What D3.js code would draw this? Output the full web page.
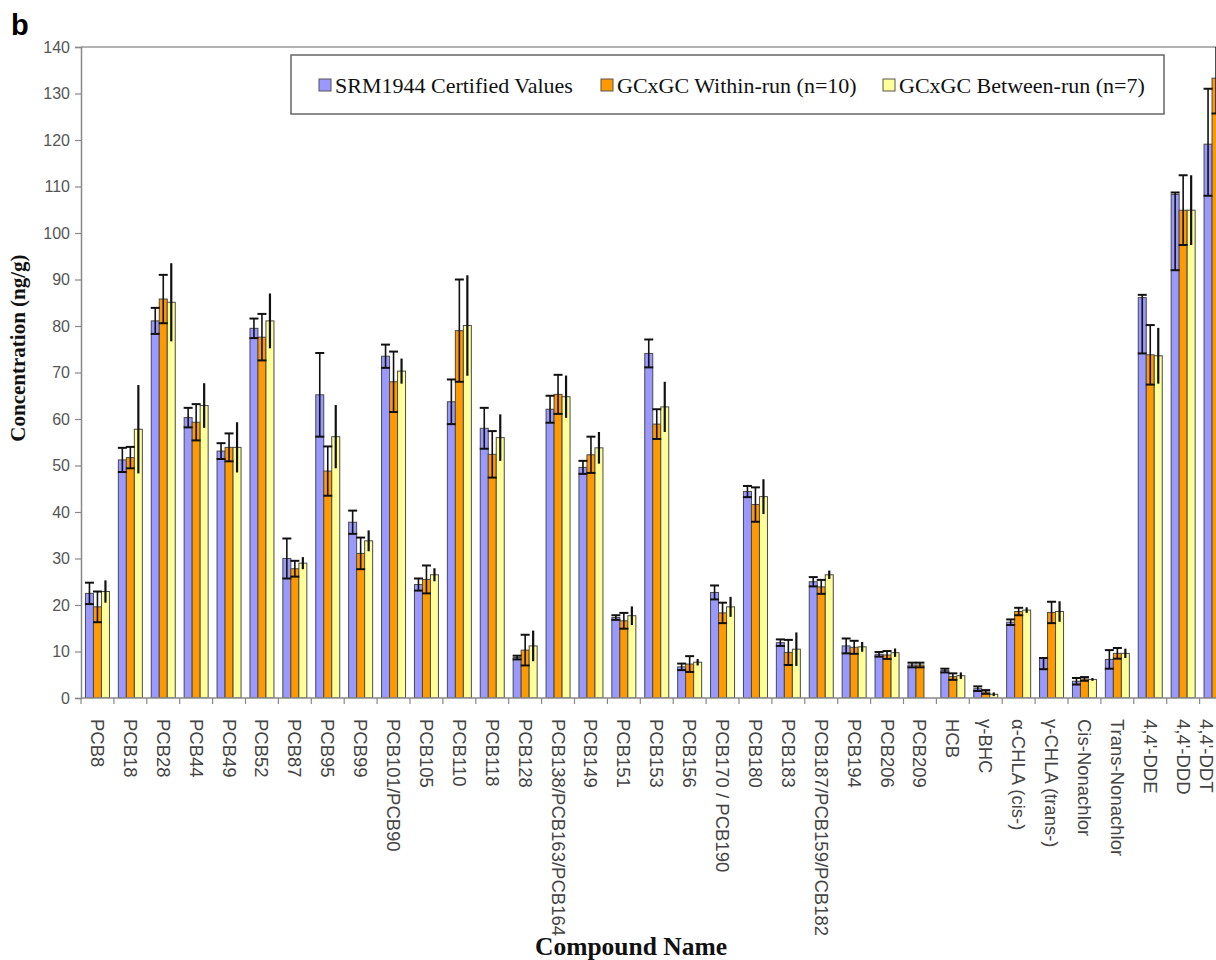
<!DOCTYPE html>
<html>
<head>
<meta charset="utf-8">
<script src="https://cdn.jsdelivr.net/npm/d3@7"></script>
<style>
  body { margin: 0; background: #fff; }
  svg { display: block; }
</style>
</head>
<body>
<svg id="chart" width="1216" height="960"></svg>
<script>
// Compounds measured in SRM 1944
const categories = [
  "PCB8", "PCB18", "PCB28", "PCB44", "PCB49", "PCB52", "PCB87", "PCB95", "PCB99",
  "PCB101/PCB90", "PCB105", "PCB110", "PCB118", "PCB128", "PCB138/PCB163/PCB164",
  "PCB149", "PCB151", "PCB153", "PCB156", "PCB170 / PCB190", "PCB180", "PCB183",
  "PCB187/PCB159/PCB182", "PCB194", "PCB206", "PCB209", "HCB", "\u03b3-BHC",
  "\u03b1-CHLA (cis-)", "\u03b3-CHLA (trans-)", "Cis-Nonachlor", "Trans-Nonachlor",
  "4,4'-DDE", "4,4'-DDD", "4,4'-DDT"
];

const seriesNames = [
  "SRM1944 Certified Values",
  "GCxGC Within-run (n=10)",
  "GCxGC Between-run (n=7)"
];

// Certified concentrations (ng/g) with lower / upper uncertainty
const certified = [
  22.5, 51.2, 81.1, 60.3, 53.1, 79.5, 30.0, 65.2, 37.8, 73.5, 24.4, 63.7, 58.0, 8.7, 62.1,
  49.6, 17.3, 74.1, 6.7, 22.7, 44.4, 11.9, 25.0, 11.2, 9.4, 7.1, 5.9, 2.0, 16.3, 8.5,
  3.6, 8.3, 86.1, 108.3, 119.1
];
const certifiedErrMinus = [
  2.3, 2.6, 2.8, 2.1, 1.7, 2.1, 4.3, 9.0, 2.5, 2.5, 1.3, 4.8, 4.4, 0.4, 2.9,
  1.4, 0.5, 3.0, 0.7, 1.5, 1.2, 0.7, 1.0, 1.6, 0.5, 0.5, 0.4, 0.5, 0.6, 2.3,
  0.7, 2.0, 12.0, 16.3, 11.1
];
const certifiedErrPlus = [
  2.3, 2.6, 2.8, 2.1, 1.7, 2.1, 4.3, 9.0, 2.5, 2.5, 1.3, 4.8, 4.4, 0.4, 2.9,
  1.4, 0.5, 3.0, 0.7, 1.5, 1.2, 0.7, 1.0, 1.6, 0.5, 0.5, 0.4, 0.5, 0.6, 0.1,
  0.7, 2.0, 0.6, 0.4, 11.9
];

// GCxGC within-run means and standard deviations (ng/g)
const withinRun = [
  19.6, 51.7, 85.8, 59.3, 53.9, 77.6, 27.8, 48.8, 31.1, 68.0, 25.5, 79.0, 52.4, 10.3, 65.3,
  52.3, 16.6, 58.9, 7.3, 18.3, 41.6, 9.8, 23.9, 10.9, 9.25, 7.1, 4.6, 1.3, 18.6, 18.4,
  4.1, 9.6, 73.8, 104.9, 133.3
];
const withinRunErr = [
  3.3, 2.3, 5.2, 3.9, 3.0, 5.0, 1.7, 5.3, 3.4, 6.5, 3.0, 11.0, 5.0, 3.3, 4.2,
  3.9, 1.7, 3.2, 1.7, 2.2, 3.7, 2.7, 1.5, 1.4, 0.85, 0.5, 0.7, 0.4, 0.8, 2.3,
  0.4, 1.15, 6.4, 7.5, 7.6
];

// GCxGC between-run means and standard deviations (ng/g); PCB209 not reported
const betweenRun = [
  22.9, 57.8, 85.1, 62.9, 53.9, 81.1, 29.0, 56.2, 33.8, 70.3, 26.5, 80.1, 56.0, 11.2, 64.8,
  53.8, 17.7, 62.6, 7.7, 19.6, 43.3, 10.5, 26.5, 11.0, 9.75, null, 4.8, 0.8, 18.9, 18.6,
  4.0, 9.6, 73.6, 104.9, 128.0
];
const betweenRunErr = [
  2.4, 9.5, 8.4, 4.8, 5.4, 5.9, 1.3, 6.8, 2.25, 2.7, 1.4, 10.8, 5.0, 3.3, 4.55,
  3.4, 2.0, 5.4, 0.7, 2.15, 3.75, 3.6, 0.9, 1.05, 0.9, null, 0.7, 0.4, 0.6, 2.2,
  0.3, 1.0, 6.0, 7.5, 8.0
];

const yTicks = d3.range(0, 141, 10);
const colors = ["#9999ff", "#ff9900", "#ffff99"];

// Geometry
const W = 1216;
const plot = { left: 81, top: 47, bottom: 698, right: 1232.5 };

const svg = d3.select("#chart");

const x = d3.scaleBand().domain(categories).range([plot.left, plot.right]).padding(0);
const inner = d3.scaleBand().domain([0, 1, 2])
  .range([4.45, x.bandwidth() - 4.45]).padding(0);
const y = d3.scaleLinear().domain([0, 140]).range([plot.bottom, plot.top]);

svg.append("clipPath").attr("id", "plotclip")
  .append("rect")
  .attr("x", plot.left).attr("y", plot.top)
  .attr("width", plot.right - plot.left).attr("height", plot.bottom - plot.top);

// Top frame line of the plot area
svg.append("line")
  .attr("x1", plot.left).attr("x2", plot.right)
  .attr("y1", plot.top).attr("y2", plot.top)
  .attr("stroke", "#999").attr("stroke-width", 1.5);

// Build rows for every series
const series = [
  { vals: certified, lo: certifiedErrMinus, hi: certifiedErrPlus, caps: true },
  { vals: withinRun, lo: withinRunErr, hi: withinRunErr, caps: true },
  { vals: betweenRun, lo: betweenRunErr, hi: betweenRunErr, caps: false }
];

const rows = [];
series.forEach((s, si) => {
  categories.forEach((c, ci) => {
    if (s.vals[ci] == null) return;
    rows.push({ c, si, v: s.vals[ci], lo: s.lo[ci], hi: s.hi[ci], caps: s.caps });
  });
});

const gPlot = svg.append("g").attr("clip-path", "url(#plotclip)");

gPlot.selectAll("rect.bar").data(rows).join("rect")
  .attr("class", "bar")
  .attr("x", d => x(d.c) + inner(d.si))
  .attr("width", inner.bandwidth())
  .attr("y", d => y(d.v))
  .attr("height", d => y(0) - y(d.v))
  .attr("fill", d => colors[d.si])
  .attr("stroke", "#4a4a4a")
  .attr("stroke-width", 1);

// Error bars
const eb = gPlot.selectAll("g.err").data(rows).join("g").attr("class", "err");
const cx = d => x(d.c) + inner(d.si) + inner.bandwidth() / 2;
eb.append("line")
  .attr("x1", cx).attr("x2", cx)
  .attr("y1", d => y(d.v + d.hi)).attr("y2", d => y(d.v - d.lo))
  .attr("stroke", "#111")
  .attr("stroke-width", d => d.caps ? 1.6 : 2.2);
const capW = 4.5;
eb.filter(d => d.caps).append("line")
  .attr("x1", d => cx(d) - capW).attr("x2", d => cx(d) + capW)
  .attr("y1", d => y(d.v + d.hi)).attr("y2", d => y(d.v + d.hi))
  .attr("stroke", "#111").attr("stroke-width", 2);
eb.filter(d => d.caps).append("line")
  .attr("x1", d => cx(d) - capW).attr("x2", d => cx(d) + capW)
  .attr("y1", d => y(d.v - d.lo)).attr("y2", d => y(d.v - d.lo))
  .attr("stroke", "#111").attr("stroke-width", 2);

// Y axis
const yAxis = svg.append("g")
  .attr("transform", `translate(${plot.left},0)`)
  .call(d3.axisLeft(y).tickValues(yTicks).tickSize(6).tickPadding(5));
yAxis.select(".domain").attr("stroke", "#888").attr("stroke-width", 1.5);
yAxis.selectAll(".tick line").attr("stroke", "#888").attr("stroke-width", 1.2);
yAxis.selectAll(".tick text")
  .attr("font-family", "'Liberation Sans', Arial, sans-serif")
  .attr("font-size", 16).attr("fill", "#555");

// X axis: ticks at category boundaries
const xAxisG = svg.append("g").attr("transform", `translate(0,${plot.bottom})`);
xAxisG.append("line")
  .attr("x1", plot.left).attr("x2", plot.right)
  .attr("stroke", "#888").attr("stroke-width", 1.5);
xAxisG.selectAll("line.tk").data(categories).join("line")
  .attr("class", "tk")
  .attr("x1", d => x(d)).attr("x2", d => x(d))
  .attr("y1", 0).attr("y2", 6)
  .attr("stroke", "#888").attr("stroke-width", 1.2);
// category labels, kept inside the page at the right edge
xAxisG.selectAll("text").data(categories).join("text")
  .attr("transform", d => `translate(${Math.min(x(d) + x.bandwidth() / 2, W - 10)},21) rotate(90)`)
  .attr("text-anchor", "start")
  .attr("dominant-baseline", "central")
  .attr("font-family", "'Liberation Sans', Arial, sans-serif")
  .attr("font-size", 18.5)
  .attr("fill", "#444")
  .text(d => d);

// Axis titles
svg.append("text")
  .attr("transform", "translate(25,348) rotate(-90)")
  .attr("text-anchor", "middle")
  .attr("font-family", "'Liberation Serif', 'Times New Roman', serif")
  .attr("font-weight", "bold")
  .attr("font-size", 21)
  .attr("fill", "#111")
  .text("Concentration  (ng/g)");

svg.append("text")
  .attr("x", 631).attr("y", 955)
  .attr("text-anchor", "middle")
  .attr("font-family", "'Liberation Serif', 'Times New Roman', serif")
  .attr("font-weight", "bold")
  .attr("font-size", 25.5)
  .attr("fill", "#111")
  .text("Compound Name");

// Panel letter
svg.append("text")
  .attr("x", 11).attr("y", 35)
  .attr("font-family", "'Liberation Sans', Arial, sans-serif")
  .attr("font-weight", "bold")
  .attr("font-size", 29)
  .attr("fill", "#000")
  .text("b");

// Legend
const legend = svg.append("g");
legend.append("rect")
  .attr("x", 291).attr("y", 55).attr("width", 873).attr("height", 59)
  .attr("fill", "#fff").attr("stroke", "#666").attr("stroke-width", 1.5);
const legendX = [319, 601, 883];
const li = legend.selectAll("g.item").data(seriesNames).join("g")
  .attr("class", "item")
  .attr("transform", (d, i) => `translate(${legendX[i]},85)`);
li.append("rect")
  .attr("x", 0).attr("y", -6).attr("width", 12).attr("height", 12)
  .attr("fill", (d, i) => colors[i]).attr("stroke", "#555").attr("stroke-width", 1);
li.append("text")
  .attr("x", 16).attr("y", 7.5)
  .attr("font-family", "'Liberation Serif', 'Times New Roman', serif")
  .attr("font-size", 22)
  .attr("fill", "#111")
  .text(d => d);
</script>
</body>
</html>
